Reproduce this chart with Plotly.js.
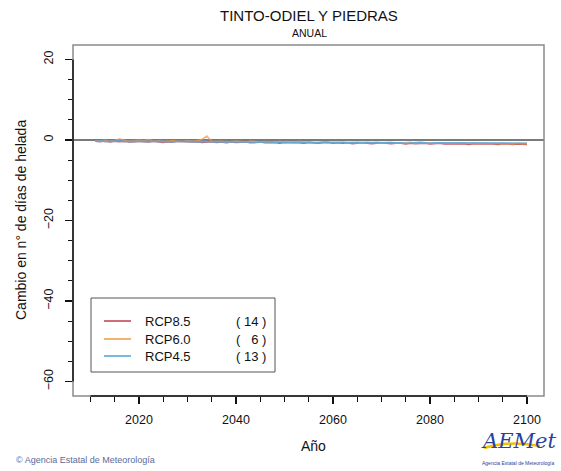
<!DOCTYPE html>
<html>
<head>
<meta charset="utf-8">
<script src="https://cdn.plot.ly/plotly-3.0.1.min.js"></script>
<style>html,body{margin:0;padding:0;background:#fff}#chart{width:561px;height:471px}</style>
</head>
<body>
<div id="chart"></div>
<script>
// ---- data ----
const years = [];
for (let y = 2011; y <= 2100; y++) years.push(y);

const rcp85 = [
 -0.3,-0.4,-0.2,-0.5,-0.3,-0.4,-0.3,-0.5,-0.4,-0.3,
 -0.4,-0.5,-0.3,-0.4,-0.6,-0.4,-0.5,-0.3,-0.4,-0.5,
 -0.5,-0.4,-0.6,-0.5,-0.4,-0.6,-0.5,-0.7,-0.5,-0.6,
 -0.6,-0.5,-0.7,-0.6,-0.5,-0.7,-0.6,-0.6,-0.8,-0.6,
 -0.7,-0.6,-0.7,-0.8,-0.6,-0.7,-0.8,-0.7,-0.6,-0.8,
 -0.7,-0.8,-0.7,-0.9,-0.8,-0.7,-0.8,-0.9,-0.8,-0.7,
 -0.8,-0.9,-0.8,-0.8,-1.0,-0.8,-0.9,-0.9,-0.8,-1.0,
 -0.9,-0.8,-1.0,-0.9,-0.9,-1.0,-0.9,-1.1,-0.9,-1.0,
 -1.0,-0.9,-1.0,-1.1,-0.9,-1.0,-1.1,-1.0,-1.0,-1.1
];
const rcp60 = [
 -0.2,-0.3,-0.1,-0.3,-0.2, 0.3,-0.1,-0.3,-0.2,-0.1,
 -0.2, 0.1,-0.3,-0.2,-0.4,-0.3,-0.2,-0.3,-0.4,-0.2,
 -0.3,-0.2, 0.2, 1.0,-0.3,-0.4,-0.3,-0.5,-0.4,-0.3,
 -0.4,-0.5,-0.3,-0.4,-0.5,-0.4,-0.6,-0.5,-0.4,-0.5,
 -0.5,-0.6,-0.4,-0.5,-0.6,-0.5,-0.7,-0.5,-0.6,-0.6,
 -0.6,-0.5,-0.7,-0.6,-0.6,-0.7,-0.6,-0.7,-0.6,-0.7,
 -0.7,-0.6,-0.8,-0.7,-0.7,-0.6,-0.8,-0.7,-0.8,-0.7,
 -0.8,-0.7,-0.7,-0.8,-0.9,-0.7,-0.8,-0.8,-0.9,-0.8,
 -0.8,-0.9,-0.8,-0.9,-0.8,-0.9,-1.0,-0.8,-0.9,-0.9
];
const rcp45 = [
 -0.3,-0.2,-0.4,-0.3,-0.3,-0.2,-0.4,-0.3,-0.4,-0.3,
 -0.3,-0.4,-0.3,-0.4,-0.3,-0.4,-0.5,-0.3,-0.4,-0.4,
 -0.4,-0.5,-0.4,-0.3,-0.5,-0.4,-0.5,-0.4,-0.5,-0.5,
 -0.5,-0.4,-0.5,-0.6,-0.5,-0.5,-0.4,-0.6,-0.5,-0.6,
 -0.5,-0.6,-0.6,-0.5,-0.6,-0.7,-0.6,-0.5,-0.6,-0.6,
 -0.6,-0.7,-0.6,-0.6,-0.7,-0.6,-0.7,-0.7,-0.6,-0.7,
 -0.7,-0.6,-0.7,-0.7,-0.8,-0.7,-0.7,-0.6,-0.7,-0.8,
 -0.7,-0.7,-0.8,-0.7,-0.7,-0.8,-0.7,-0.8,-0.7,-0.8,
 -0.8,-0.7,-0.8,-0.8,-0.7,-0.8,-0.8,-0.7,-0.8,-0.8
];

const scenarioNames = ["RCP8.5", "RCP6.0", "RCP4.5"];
const modelCounts = [14, 6, 13];
const scenarioColors = ["#c0485a", "#f0a050", "#5aa8dc"];
const xTickVals = [2020, 2040, 2060, 2080, 2100];
const yTickVals = [-60, -40, -20, 0, 20];

// ---- geometry helpers (pixels -> paper) ----
const L = 73, R = 544, T = 45, B = 396;
const W = R - L, H = B - T;
const px = x => (x - L) / W;
const py = y => (B - y) / H;

const series = [rcp85, rcp60, rcp45];
const opac = [0.9, 0.75, 0.9];
const traces = series.map((s, i) => ({
  x: years, y: s, type: "scatter", mode: "lines",
  line: {color: scenarioColors[i], width: 1.6}, opacity: opac[i],
  name: scenarioNames[i], showlegend: false, hoverinfo: "skip"
}));

const shapes = [
  {type: "rect", xref: "paper", yref: "paper", x0: 0, x1: 1, y0: 0, y1: 1,
   line: {color: "#8a8a8a", width: 1.5}, layer: "above"},
  {type: "line", xref: "paper", yref: "y", x0: 0, x1: 0, y0: -60, y1: 20,
   line: {color: "#111", width: 1.5}, layer: "above"},
  {type: "line", xref: "x", yref: "paper", x0: 2010, x1: 2100, y0: 0, y1: 0,
   line: {color: "#111", width: 1.5}, layer: "above"},
  {type: "rect", xref: "paper", yref: "paper", x0: px(91), x1: px(275), y0: py(372), y1: py(298),
   line: {color: "#555", width: 1}, fillcolor: "#fff", layer: "above"}
];

const legY = [321, 339, 356];
const annotations = [];
scenarioNames.forEach((n, i) => {
  shapes.push({type: "line", xref: "paper", yref: "paper",
    x0: px(104), x1: px(131), y0: py(legY[i]), y1: py(legY[i]),
    line: {color: scenarioColors[i], width: 1.6}, layer: "above"});
  annotations.push({xref: "paper", yref: "paper", x: px(143), y: py(legY[i]),
    xanchor: "left", yanchor: "middle", showarrow: false, text: n,
    font: {size: 13, color: "#111"}});
  const c = String(modelCounts[i]).padStart(2, "\u2007");
  annotations.push({xref: "paper", yref: "paper", x: px(268), y: py(legY[i]),
    xanchor: "right", yanchor: "middle", showarrow: false, text: "( " + c + " )",
    font: {size: 13, color: "#111"}});
});

annotations.push(
  {xref: "paper", yref: "paper", x: px(309), y: py(16), xanchor: "center", yanchor: "middle",
   showarrow: false, text: "TINTO-ODIEL Y PIEDRAS", font: {size: 15, color: "#111"}},
  {xref: "paper", yref: "paper", x: px(309), y: py(33), xanchor: "center", yanchor: "middle",
   showarrow: false, text: "ANUAL", font: {size: 10.5, color: "#111"}},
  {xref: "paper", yref: "paper", x: px(21), y: py(220), xanchor: "center", yanchor: "middle",
   textangle: -90, showarrow: false, text: "Cambio en n\u00b0 de d\u00edas de helada",
   font: {size: 14, color: "#111"}},
  {xref: "paper", yref: "paper", x: px(313), y: py(446), xanchor: "center", yanchor: "middle",
   showarrow: false, text: "A\u00f1o", font: {size: 14, color: "#111"}},
  {xref: "paper", yref: "paper", x: px(14), y: py(460), xanchor: "left", yanchor: "middle",
   showarrow: false, text: "\u00a9 Agencia Estatal de Meteorolog\u00eda",
   font: {size: 9, color: "#5b6b9b"}},
  {xref: "paper", yref: "paper", x: px(518), y: py(441), xanchor: "center", yanchor: "middle",
   showarrow: false, text: "<i>AEMet</i>", font: {size: 21, color: "#2b3f9e", family: "DejaVu Serif"}},
  {xref: "paper", yref: "paper", x: px(518), y: py(463), xanchor: "center", yanchor: "middle",
   showarrow: false, text: "Agencia Estatal de Meteorolog\u00eda", font: {size: 5, color: "#2b3f9e"}}
);
shapes.push({type: "path", xref: "paper", yref: "paper",
  path: `M ${px(484)} ${py(448)} Q ${px(510)} ${py(440)} ${px(540)} ${py(446)}`,
  line: {color: "#f2c200", width: 2.5}, layer: "above"});

const layout = {
  width: 561, height: 471,
  margin: {l: L, r: 561 - R, t: T, b: 471 - B, pad: 0},
  paper_bgcolor: "#fff", plot_bgcolor: "#fff",
  font: {family: "Liberation Sans, Arial, sans-serif", color: "#111"},
  showlegend: false,
  xaxis: {
    range: [2006.4, 2103.5], tickvals: xTickVals, ticks: "outside", ticklen: 7, tickwidth: 1.6,
    tickcolor: "#111", showgrid: false, zeroline: false, showline: false,
    ticklabelstandoff: 5,
    tickfont: {size: 12.5, color: "#111"},
    minor: {tickvals: [2010,2015,2020,2025,2030,2035,2040,2045,2050,2055,2060,2065,2070,2075,2080,2085,2090,2095,2100],
            ticks: "outside", ticklen: 5, tickwidth: 1, tickcolor: "#111", showgrid: false}
  },
  yaxis: {
    range: [-63.6, 23.6], tickvals: yTickVals, ticks: "outside", ticklen: 7, tickwidth: 1.6,
    tickcolor: "#111", showgrid: false, showline: false, tickangle: -90,
    ticklabelstandoff: 7,
    zeroline: true, zerolinecolor: "#7a7a7a", zerolinewidth: 1.2,
    tickfont: {size: 12.5, color: "#111"},
    minor: {tickvals: [-60,-55,-50,-45,-40,-35,-30,-25,-20,-15,-10,-5,0,5,10,15,20],
            ticks: "outside", ticklen: 4, tickwidth: 1, tickcolor: "#111", showgrid: false}
  },
  shapes: shapes,
  annotations: annotations
};

Plotly.newPlot("chart", traces, layout, {staticPlot: true, displayModeBar: false});
</script>
</body>
</html>
